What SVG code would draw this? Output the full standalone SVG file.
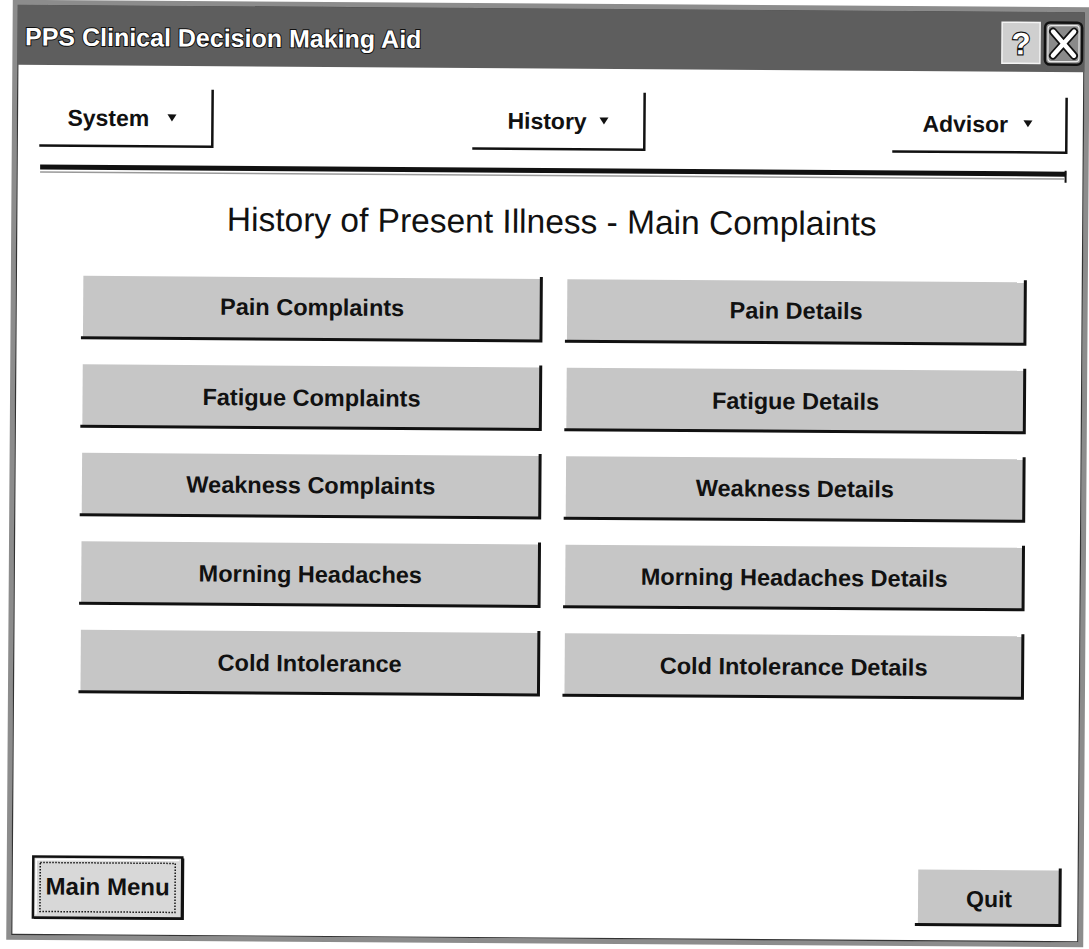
<svg xmlns="http://www.w3.org/2000/svg" width="1089" height="949" viewBox="0 0 1089 949">
  <style>
    .btn { fill: #c6c6c6; }
    .edge { stroke: #111; stroke-width: 3; fill: none; }
    .lbl { font-family: "Liberation Sans", Arial, sans-serif; font-weight: bold; font-size: 23.5px; fill: #111; text-anchor: middle; }
    .menu { font-family: "Liberation Sans", Arial, sans-serif; font-weight: bold; font-size: 23px; fill: #111; }
    .menuedge { stroke: #111; stroke-width: 2.5; fill: none; }
    .tri { fill: #111; }
  </style>
  <rect x="0" y="0" width="1089" height="949" fill="#ffffff"/>
  <!-- the whole dialog sits slightly tilted on the page -->
  <g transform="rotate(0.4 544 474)">
    <!-- window frame -->
    <g id="window">
      <rect x="12" y="6" width="1072" height="935" fill="#ffffff" stroke="#8c8c8c" stroke-width="5"/>
      <rect x="15" y="9" width="1066" height="929" fill="none" stroke="#333" stroke-width="1.2"/>
      <rect x="14.5" y="8.5" width="1067" height="60" fill="#5e5e5e"/>
      <text x="22" y="49" font-family="'Liberation Sans', Arial, sans-serif" font-weight="bold" font-size="25" fill="#ffffff" stroke="#111" stroke-width="2" paint-order="stroke">PPS Clinical Decision Making Aid</text>
    </g>
    <!-- title bar buttons -->
    <g id="help-button">
      <rect x="999" y="19" width="38" height="41" fill="#cfcfcf" stroke="#f4f4f4" stroke-width="1.5"/>
      <text x="1018" y="51" text-anchor="middle" font-family="'Liberation Sans', Arial, sans-serif" font-weight="bold" font-size="31" fill="#ffffff" stroke="#111" stroke-width="2.2" paint-order="stroke">?</text>
    </g>
    <g id="close-button">
      <rect x="1042" y="19" width="37" height="42" rx="5" fill="#8a8a8a" stroke="#111" stroke-width="2.5"/>
      <rect x="1045" y="22" width="31" height="36" rx="3" fill="none" stroke="#e8e8e8" stroke-width="1.2"/>
      <path d="M1050 28 L1071 52 M1071 28 L1050 52" stroke="#111" stroke-width="8" stroke-linecap="round"/>
      <path d="M1050 28 L1071 52 M1071 28 L1050 52" stroke="#ffffff" stroke-width="4.5" stroke-linecap="round"/>
    </g>

    <!-- menu bar -->
    <g id="menu-system">
      <path class="menuedge" d="M37 149 H210 V92"/>
      <text class="menu" x="65" y="129">System</text>
      <polygon class="tri" points="165,117 174,117 169.5,124"/>
    </g>
    <g id="menu-history">
      <path class="menuedge" d="M470 149 H642 V92"/>
      <text class="menu" x="505" y="129">History</text>
      <polygon class="tri" points="597,117 606,117 601.5,124"/>
    </g>
    <g id="menu-advisor">
      <path class="menuedge" d="M890 149 H1064 V94"/>
      <text class="menu" x="920" y="129">Advisor</text>
      <polygon class="tri" points="1021,117 1030,117 1025.5,124"/>
    </g>

    <!-- separator rule -->
    <g id="separator">
      <rect x="38" y="168" width="1026" height="5" fill="#111"/>
      <line x1="38" y1="175.5" x2="1062" y2="175.5" stroke="#999" stroke-width="1.5"/>
      <line x1="1063.5" y1="167" x2="1063.5" y2="179" stroke="#111" stroke-width="2"/>
    </g>

    <g id="heading">
      <text x="550" y="233" text-anchor="middle" font-family="'Liberation Sans', Arial, sans-serif" font-size="33.5" fill="#111">History of Present Illness - Main Complaints</text>
    </g>

    <!-- complaint buttons, left column -->
    <g id="pain-complaints">
      <rect class="btn" x="82" y="279" width="458" height="62"/>
      <path class="edge" d="M80 341 H540 V277"/>
      <text class="lbl" x="311" y="317">Pain Complaints</text>
    </g>
    <g id="fatigue-complaints">
      <rect class="btn" x="82" y="367.5" width="458" height="62"/>
      <path class="edge" d="M80 429.5 H540 V365.5"/>
      <text class="lbl" x="311" y="407.5">Fatigue Complaints</text>
    </g>
    <g id="weakness-complaints">
      <rect class="btn" x="82" y="456" width="458" height="62"/>
      <path class="edge" d="M80 518 H540 V454"/>
      <text class="lbl" x="311" y="495">Weakness Complaints</text>
    </g>
    <g id="morning-headaches">
      <rect class="btn" x="82" y="544.5" width="458" height="62"/>
      <path class="edge" d="M80 606.5 H540 V542.5"/>
      <text class="lbl" x="311" y="584">Morning Headaches</text>
    </g>
    <g id="cold-intolerance">
      <rect class="btn" x="82" y="633" width="458" height="62"/>
      <path class="edge" d="M80 695 H540 V631"/>
      <text class="lbl" x="311" y="673">Cold Intolerance</text>
    </g>

    <!-- detail buttons, right column -->
    <g id="pain-details">
      <rect class="btn" x="566" y="279" width="458" height="62"/>
      <path class="edge" d="M564 341 H1024 V277"/>
      <text class="lbl" x="795" y="317">Pain Details</text>
    </g>
    <g id="fatigue-details">
      <rect class="btn" x="566" y="367.5" width="458" height="62"/>
      <path class="edge" d="M564 429.5 H1024 V365.5"/>
      <text class="lbl" x="795" y="407.5">Fatigue Details</text>
    </g>
    <g id="weakness-details">
      <rect class="btn" x="566" y="456" width="458" height="62"/>
      <path class="edge" d="M564 518 H1024 V454"/>
      <text class="lbl" x="795" y="495">Weakness Details</text>
    </g>
    <g id="morning-headaches-details">
      <rect class="btn" x="566" y="544.5" width="458" height="62"/>
      <path class="edge" d="M564 606.5 H1024 V542.5"/>
      <text class="lbl" x="795" y="584">Morning Headaches Details</text>
    </g>
    <g id="cold-intolerance-details">
      <rect class="btn" x="566" y="633" width="458" height="62"/>
      <path class="edge" d="M564 695 H1024 V631"/>
      <text class="lbl" x="795" y="673">Cold Intolerance Details</text>
    </g>

    <!-- footer buttons -->
    <g id="main-menu">
      <rect x="36" y="860" width="149" height="61" fill="#d8d8d8" stroke="#111" stroke-width="2.5"/>
      <path d="M39 918 V863 H182" fill="none" stroke="#ffffff" stroke-width="1.5"/>
      <path d="M37 921.5 H186 V861" fill="none" stroke="#111" stroke-width="2"/>
      <rect x="43" y="866" width="135" height="49" fill="none" stroke="#111" stroke-width="1.5" stroke-dasharray="1.5 1.5"/>
      <text class="lbl" x="110.5" y="898" style="font-size:24px">Main Menu</text>
    </g>
    <g id="quit">
      <rect class="btn" x="921" y="867" width="142" height="55"/>
      <path class="edge" d="M918 922 H1063 V865"/>
      <text class="lbl" x="992" y="904" style="font-size:23px">Quit</text>
    </g>

    <g id="connectors"/>
  </g>
</svg>
